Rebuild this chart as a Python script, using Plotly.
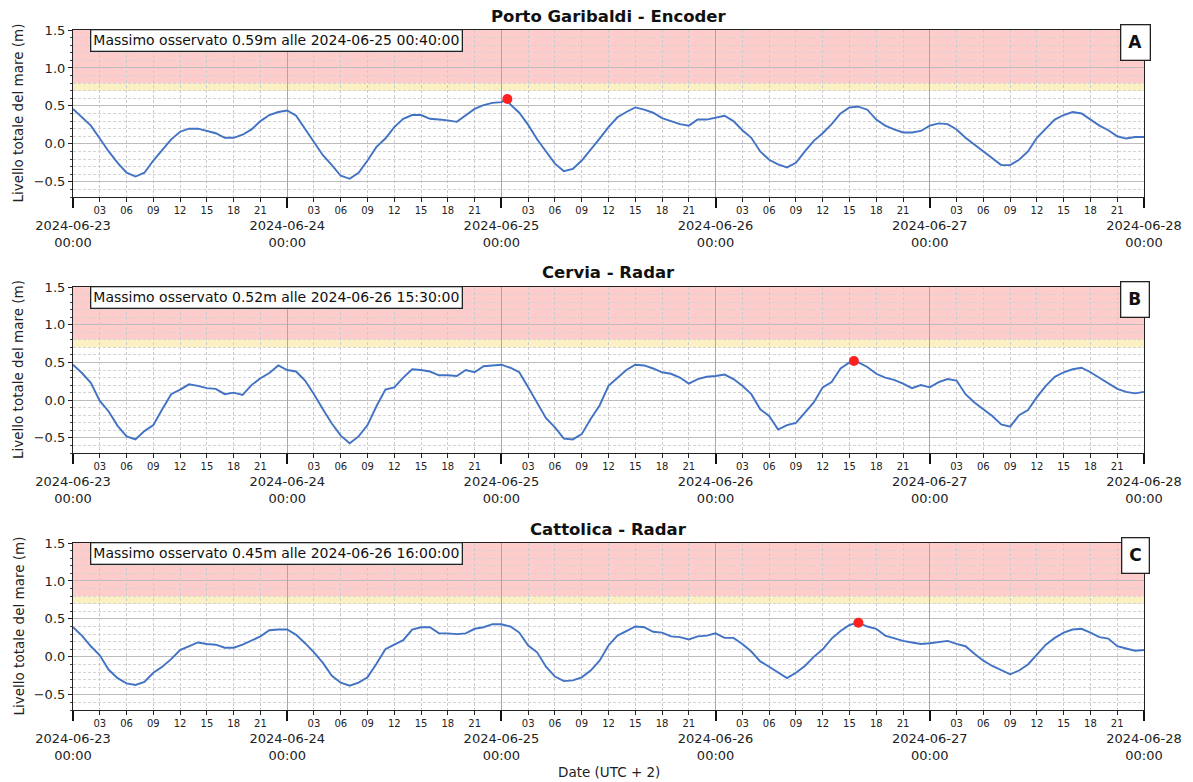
import pandas as pd
import plotly.graph_objects as go

# ---------------- data ----------------
start = "2024-06-23 00:00"
end = "2024-06-28 00:00"
stations = ["Porto Garibaldi - Encoder", "Cervia - Radar", "Cattolica - Radar"]
panel_letters = ["A", "B", "C"]

# hourly total sea level (m), 2024-06-23 00:00 .. 2024-06-28 00:00
level_porto_garibaldi = [
    0.46, 0.35, 0.24, 0.07, -0.10, -0.25, -0.38, -0.43, -0.38, -0.22,
    -0.08, 0.06, 0.16, 0.20, 0.20, 0.17, 0.14, 0.08, 0.08, 0.12,
    0.19, 0.30, 0.38, 0.42, 0.44, 0.37, 0.20, 0.02, -0.15, -0.28,
    -0.42, -0.46, -0.38, -0.22, -0.04, 0.07, 0.22, 0.33, 0.38, 0.38,
    0.33, 0.32, 0.31, 0.29, 0.37, 0.46, 0.51, 0.54, 0.55, 0.52,
    0.41, 0.25, 0.06, -0.10, -0.26, -0.36, -0.33, -0.22, -0.08, 0.07,
    0.22, 0.35, 0.42, 0.48, 0.45, 0.41, 0.34, 0.30, 0.26, 0.24,
    0.32, 0.32, 0.35, 0.37, 0.30, 0.18, 0.08, -0.10, -0.21, -0.27,
    -0.31, -0.25, -0.10, 0.04, 0.14, 0.26, 0.40, 0.48, 0.49, 0.45,
    0.32, 0.24, 0.19, 0.15, 0.15, 0.17, 0.24, 0.27, 0.26, 0.19,
    0.08, -0.01, -0.09, -0.18, -0.28, -0.28, -0.21, -0.10, 0.08, 0.20,
    0.32, 0.38, 0.42, 0.40, 0.32, 0.24, 0.18, 0.10, 0.07, 0.09,
    0.09,
]
level_cervia = [
    0.47, 0.36, 0.23, -0.01, -0.15, -0.34, -0.48, -0.52, -0.41, -0.33,
    -0.12, 0.08, 0.14, 0.21, 0.19, 0.16, 0.15, 0.08, 0.10, 0.07,
    0.20, 0.29, 0.36, 0.46, 0.40, 0.38, 0.26, 0.08, -0.12, -0.31,
    -0.47, -0.57, -0.48, -0.33, -0.08, 0.14, 0.17, 0.30, 0.41, 0.40,
    0.38, 0.33, 0.33, 0.32, 0.40, 0.37, 0.45, 0.46, 0.47, 0.43,
    0.37, 0.17, -0.04, -0.24, -0.36, -0.51, -0.52, -0.45, -0.25, -0.07,
    0.19, 0.30, 0.40, 0.47, 0.46, 0.42, 0.37, 0.35, 0.30, 0.22,
    0.28, 0.31, 0.32, 0.34, 0.28, 0.19, 0.08, -0.12, -0.21, -0.39,
    -0.33, -0.30, -0.17, -0.03, 0.17, 0.24, 0.42, 0.50, 0.50, 0.44,
    0.35, 0.30, 0.27, 0.22, 0.16, 0.20, 0.17, 0.24, 0.28, 0.26,
    0.08, -0.03, -0.12, -0.21, -0.32, -0.35, -0.20, -0.13, 0.04, 0.19,
    0.31, 0.37, 0.41, 0.43, 0.37, 0.30, 0.22, 0.15, 0.11, 0.09,
    0.11,
]
level_cattolica = [
    0.39, 0.28, 0.14, 0.02, -0.17, -0.28, -0.35, -0.37, -0.33, -0.21,
    -0.13, -0.03, 0.09, 0.14, 0.19, 0.17, 0.16, 0.12, 0.12, 0.16,
    0.22, 0.27, 0.35, 0.36, 0.36, 0.29, 0.18, 0.06, -0.08, -0.25,
    -0.34, -0.38, -0.34, -0.27, -0.09, 0.10, 0.16, 0.22, 0.36, 0.39,
    0.39, 0.31, 0.31, 0.30, 0.31, 0.37, 0.39, 0.43, 0.43, 0.40,
    0.32, 0.15, 0.06, -0.13, -0.26, -0.32, -0.31, -0.27, -0.18, -0.05,
    0.15, 0.28, 0.34, 0.40, 0.39, 0.33, 0.32, 0.27, 0.26, 0.23,
    0.27, 0.28, 0.31, 0.25, 0.25, 0.17, 0.07, -0.06, -0.13, -0.20,
    -0.28, -0.21, -0.12, 0.00, 0.10, 0.24, 0.34, 0.42, 0.45, 0.40,
    0.37, 0.28, 0.24, 0.21, 0.19, 0.17, 0.18, 0.20, 0.21, 0.17,
    0.14, 0.04, -0.05, -0.12, -0.18, -0.23, -0.18, -0.10, 0.03, 0.16,
    0.25, 0.32, 0.36, 0.37, 0.32, 0.26, 0.24, 0.14, 0.11, 0.08,
    0.09,
]
levels = [level_porto_garibaldi, level_cervia, level_cattolica]

peak_times = ["2024-06-25 00:40:00", "2024-06-26 15:30:00", "2024-06-26 16:00:00"]
peak_values = [0.59, 0.52, 0.45]

hour_labels = ["03", "06", "09", "12", "15", "18", "21"]
day_labels = ["2024-06-23", "2024-06-24", "2024-06-25", "2024-06-26", "2024-06-27", "2024-06-28"]
y_tick_values = [-0.5, 0.0, 0.5, 1.0, 1.5]
y_range = [-0.7, 1.5]
yellow_band = [0.7, 0.8]
red_band = [0.8, 1.5]

# ---------------- layout geometry ----------------
W, H = 1193, 782
x_dom = [73 / W, 1144 / W]
panel_px = [(30, 197), (287, 453), (543, 710)]
FONT = "DejaVu Sans"
LINE_BLUE = "#4272c4"

times = pd.date_range(start, periods=len(level_porto_garibaldi), freq="h")
hour_tickvals = [pd.Timestamp(d) + pd.Timedelta(hours=int(h))
                 for d in day_labels[:-1] for h in hour_labels]
day_tickvals = [pd.Timestamp(d) for d in day_labels]
day_ticktext = [f"{d}<br>00:00" for d in day_labels]

fig = go.Figure()
annotations = []
shapes = []

for i in range(3):
    n = i + 1
    xa = "x" if n == 1 else f"x{n}"
    ya = "y" if n == 1 else f"y{n}"
    xo = f"x{n + 3}"
    top, bot = panel_px[i]
    y_dom = [1 - bot / H, 1 - top / H]

    pt = pd.Timestamp(peak_times[i])
    series = pd.Series(levels[i], index=times)
    series = series.drop(pt, errors="ignore")
    series.loc[pt] = peak_values[i]
    series = series.sort_index()

    fig.add_trace(go.Scatter(x=series.index, y=series.values, mode="lines",
                             line=dict(color=LINE_BLUE, width=1.9),
                             xaxis=xa, yaxis=ya, showlegend=False))
    fig.add_trace(go.Scatter(x=[pt], y=[peak_values[i]], mode="markers",
                             marker=dict(color="#ff2020", size=10),
                             xaxis=xa, yaxis=ya, showlegend=False))
    # helper trace for the day-axis overlay
    fig.add_trace(go.Scatter(x=[start, end], y=[None, None], mode="lines",
                             xaxis=xo, yaxis=ya, showlegend=False, hoverinfo="skip"))

    axis_line = dict(showline=True, linecolor="#222222", linewidth=1.2, mirror=True)
    fig.layout[f"xaxis{n}"] = dict(
        domain=x_dom, anchor=ya, type="date", range=[start, end], automargin=False,
        tickmode="array", tickvals=hour_tickvals, ticktext=hour_labels * 5,
        ticks="outside", ticklen=4, tickwidth=1, tickcolor="#222222",
        tickfont=dict(family=FONT, size=10, color="#222222"),
        showgrid=True, gridcolor="#cccccc", gridwidth=0.8, griddash="3px,2px",
        zeroline=False, **axis_line)
    fig.layout[f"xaxis{n + 3}"] = dict(
        domain=x_dom, anchor=ya, overlaying=xa, side="bottom", type="date",
        range=[start, end], automargin=False, tickmode="array", tickvals=day_tickvals,
        ticktext=day_ticktext, ticks="outside", ticklen=10, tickwidth=2,
        tickcolor="#111111", ticklabelstandoff=6,
        tickfont=dict(family=FONT, size=13, color="#222222"),
        showgrid=True, gridcolor="#a8a8a8", gridwidth=1.3, zeroline=False,
        showline=False)
    fig.layout[f"yaxis{n}"] = dict(
        domain=y_dom, anchor=xa, range=y_range, automargin=False, tickmode="array",
        tickvals=y_tick_values, tickformat=".1f",
        ticks="outside", ticklen=4, tickwidth=1, tickcolor="#222222",
        tickfont=dict(family=FONT, size=13, color="#222222"),
        showgrid=True, gridcolor="#bdbdbd", gridwidth=1.4, zeroline=False,
        minor=dict(dtick=0.1, tick0=0, ticks="outside", ticklen=2,
                   tickcolor="#444444", showgrid=True, gridcolor="#d4d4d4",
                   gridwidth=0.8, griddash="3px,2px"),
        **axis_line)

    # alert bands
    shapes.append(dict(type="rect", xref=f"{xa} domain", yref=ya, x0=0, x1=1,
                       y0=red_band[0], y1=red_band[1], fillcolor="#ffcccc",
                       line=dict(width=0), layer="below"))
    shapes.append(dict(type="rect", xref=f"{xa} domain", yref=ya, x0=0, x1=1,
                       y0=yellow_band[0], y1=yellow_band[1], fillcolor="#fbf0c2",
                       line=dict(width=0), layer="below"))

    # panel title
    annotations.append(dict(text=f"<b>{stations[i]}</b>", xref="paper", yref="paper",
                            x=(x_dom[0] + x_dom[1]) / 2, y=1 - (top - 14) / H,
                            xanchor="center", yanchor="middle", showarrow=False,
                            font=dict(family=FONT, size=16.5, color="#111111")))
    # max observed box
    annotations.append(dict(
        text=f"Massimo osservato {peak_values[i]:.2f}m alle {peak_times[i]}",
        xref="paper", yref="paper", x=90 / W, y=1 - (top - 1) / H,
        xanchor="left", yanchor="top", showarrow=False,
        font=dict(family=FONT, size=14, color="#111111"),
        bgcolor="white", bordercolor="#222222", borderwidth=1.3, borderpad=2))
    # panel letter box
    annotations.append(dict(
        text=f"<b>{panel_letters[i]}</b>", xref="paper", yref="paper",
        x=1135 / W, y=1 - (top + 12) / H, xanchor="center", yanchor="middle",
        showarrow=False, font=dict(family=FONT, size=17, color="#111111"),
        bgcolor="white", bordercolor="#222222", borderwidth=1.3, borderpad=7))
    # y axis title
    annotations.append(dict(
        text="Livello totale del mare (m)", xref="paper", yref="paper",
        x=18 / W, y=1 - (top + bot) / 2 / H, xanchor="center", yanchor="middle",
        textangle=-90, showarrow=False,
        font=dict(family=FONT, size=13.5, color="#222222")))

annotations.append(dict(text="Date (UTC + 2)", xref="paper", yref="paper",
                        x=(x_dom[0] + x_dom[1]) / 2, y=1 - 772 / H,
                        xanchor="center", yanchor="middle", showarrow=False,
                        font=dict(family=FONT, size=13.5, color="#222222")))

fig.update_layout(width=W, height=H, margin=dict(l=0, r=0, t=0, b=0),
                  paper_bgcolor="white", plot_bgcolor="white",
                  annotations=annotations, shapes=shapes, showlegend=False,
                  font=dict(family=FONT))
fig.write_html("out.html")
